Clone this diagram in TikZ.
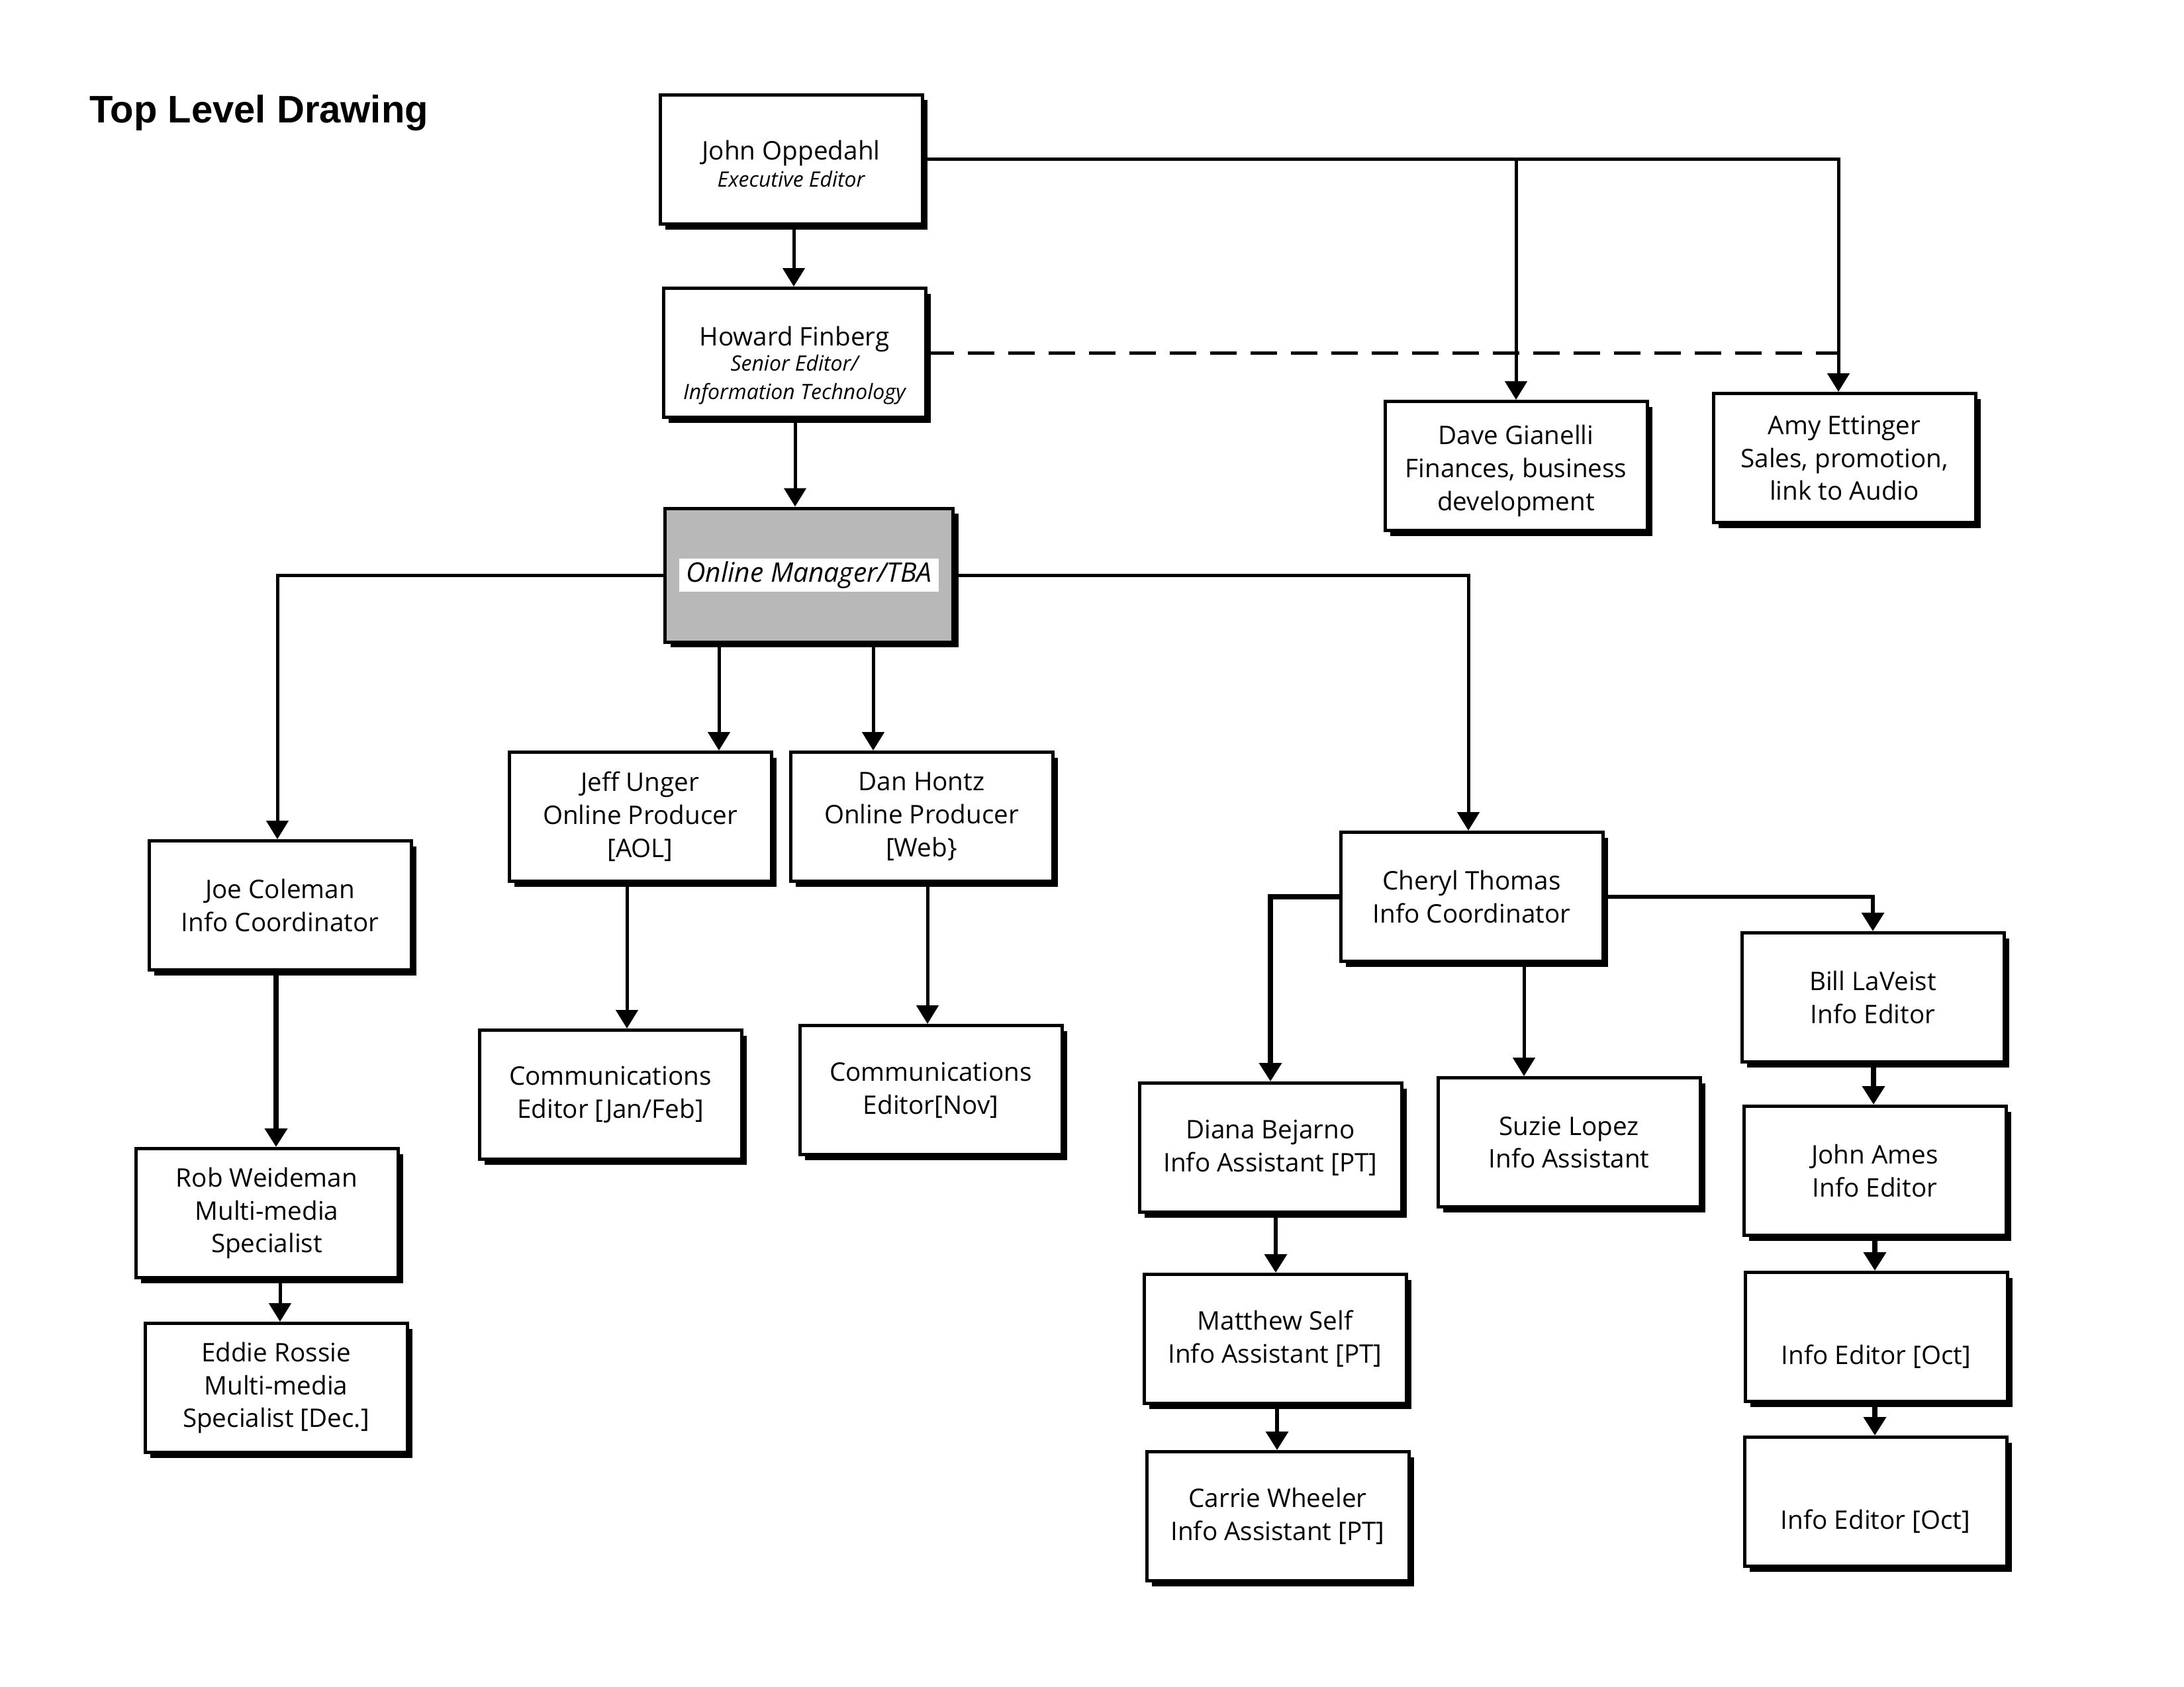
\documentclass[tikz,border=0pt]{standalone}
\usepackage{fontspec}
\setmainfont{Open Sans}
\newfontfamily\titlefont{Liberation Sans}
\usetikzlibrary{arrows.meta,shadows}
\newcommand\subt{\itshape\fontsize{9.1}{11.4}\selectfont}
\tikzset{
  box/.style={draw=black, line width=0.05cm, fill=white,
    minimum width=3.96cm, minimum height=1.95cm, align=center, inner sep=0pt,
    font=\fontsize{11}{14.2}\selectfont,
    drop shadow={shadow xshift=0.08cm, shadow yshift=-0.08cm, opacity=1, fill=black}},
  conn/.style={line width=0.05cm, -{Triangle[length=0.28cm,width=0.33cm]}},
  heavy/.style={line width=0.08cm},
  medium/.style={line width=0.065cm},
  dashline/.style={line width=0.05cm, dash pattern=on 0.4cm off 0.21cm}
}
\begin{document}
\begin{tikzpicture}
\fill[white] (0,0) rectangle (32.99,-25.49);
\useasboundingbox (0,0) rectangle (32.99,-25.49);

\node[anchor=base west, inner sep=0pt, font=\titlefont\bfseries\fontsize{16.5}{20}\selectfont] (title) at (1.35,-1.85) {Top Level Drawing};

% top level
\node[box] (john) at (11.95,-2.41) {\rule{0pt}{0.42cm}John Oppedahl\\[-2.5pt]\subt Executive Editor};
\node[box] (howard) at (12.00,-5.33) {\rule{0pt}{0.68cm}Howard Finberg\\[-3.5pt]\subt Senior Editor/\\[-2pt]\subt Information Technology};
\node[box, fill=black!28, minimum width=4.35cm, minimum height=2.02cm] (om) at (12.22,-8.69) {};
\node[fill=white, minimum width=3.92cm, minimum height=0.5cm, inner sep=0pt,
      font=\itshape\fontsize{11.6}{13}\selectfont] (omlabel) at (om.center) {Online Manager/TBA};
\node[box] (dave) at (22.90,-7.04) {\rule{0pt}{0.45cm}Dave Gianelli\\Finances, business\\development};
\node[box] (amy) at (27.86,-6.92) {Amy Ettinger\\Sales, promotion,\\link to Audio};

% left branch
\node[box] (joe) at (4.23,-13.68) {Joe Coleman\\Info Coordinator};
\node[box] (rob) at (4.03,-18.33) {Rob Weideman\\Multi-media\\Specialist};
\node[box] (eddie) at (4.17,-20.97) {Eddie Rossie\\Multi-media\\Specialist [Dec.]};

% producers
\node[box] (jeff) at (9.67,-12.34) {Jeff Unger\\Online Producer\\{[AOL]}};
\node[box] (dan) at (13.92,-12.34) {Dan Hontz\\Online Producer\\{[Web\}}};
\node[box] (commjf) at (9.22,-16.54) {Communications\\Editor [Jan/Feb]};
\node[box] (commnov) at (14.06,-16.47) {Communications\\Editor[Nov]};

% right branch
\node[box] (cheryl) at (22.23,-13.55) {Cheryl Thomas\\Info Coordinator};
\node[box] (diana) at (19.19,-17.34) {Diana Bejarno\\Info Assistant [PT]};
\node[box] (suzie) at (23.70,-17.26) {Suzie Lopez\\Info Assistant};
\node[box] (matthew) at (19.26,-20.23) {Matthew Self\\Info Assistant [PT]};
\node[box] (carrie) at (19.30,-22.91) {Carrie Wheeler\\Info Assistant [PT]};
\node[box] (bill) at (28.29,-15.07) {Bill LaVeist\\Info Editor};
\node[box] (ames) at (28.32,-17.69) {John Ames\\Info Editor};
\node[box] (oct1) at (28.34,-20.20) {\rule{0pt}{0.9cm}Info Editor [Oct]};
\node[box] (oct2) at (28.33,-22.69) {\rule{0pt}{0.9cm}Info Editor [Oct]};

% connectors
\draw[conn] (john.south -| 11.99,0) -- (howard.north -| 11.99,0);
\draw[conn] (john.east) -| ([xshift=-0.09cm]amy.north);
\draw[conn] (john.east -| dave.north) -- (dave.north);
\draw[dashline] (howard.east) -- (howard.east -| 27.77,0);
\draw[conn] (howard.south -| 12.01,0) -- (om.north -| 12.01,0);

\draw[conn] (om.west) -| (joe.north -| 4.19,0);
\draw[conn] (om.south -| 10.86,0) -- (jeff.north -| 10.86,0);
\draw[conn] (om.south -| 13.19,0) -- (dan.north -| 13.19,0);
\draw[conn] (om.east) -| (cheryl.north -| 22.18,0);

\draw[conn, heavy] (joe.south -| 4.17,0) -- (rob.north -| 4.17,0);
\draw[conn] (rob.south -| 4.23,0) -- (eddie.north -| 4.23,0);
\draw[conn] (jeff.south -| 9.47,0) -- (commjf.north -| 9.47,0);
\draw[conn] (dan.south -| 14.01,0) -- (commnov.north -| 14.01,0);

\draw[conn, heavy] (cheryl.west) -| (diana.north);
\draw[conn] (cheryl.south -| 23.02,0) -- (suzie.north -| 23.02,0);
\draw[conn, medium] (cheryl.east) -| (bill.north);
\draw[conn, heavy] (bill.south -| 28.30,0) -- (ames.north -| 28.30,0);
\draw[conn, heavy] (ames.south -| 28.32,0) -- (oct1.north -| 28.32,0);
\draw[conn, heavy] (oct1.south -| 28.32,0) -- (oct2.north -| 28.32,0);
\draw[conn, medium] (diana.south -| 19.27,0) -- (matthew.north -| 19.27,0);
\draw[conn, medium] (matthew.south -| 19.29,0) -- (carrie.north -| 19.29,0);
\end{tikzpicture}
\end{document}
